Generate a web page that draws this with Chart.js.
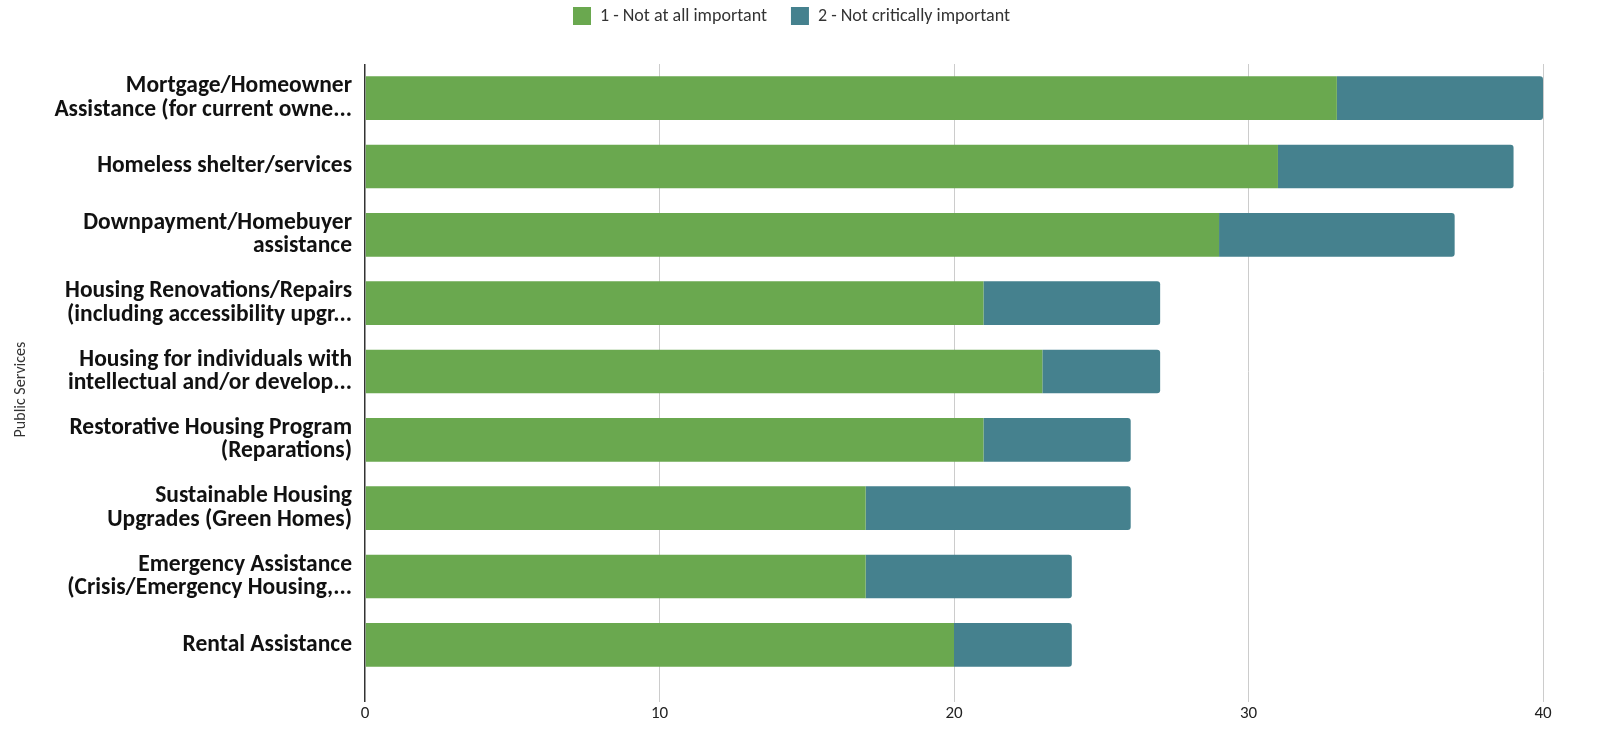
<!DOCTYPE html>
<html>
<head>
<meta charset="utf-8">
<script src="https://cdn.jsdelivr.net/npm/chart.js@4"></script>
<style>
  html, body { margin: 0; padding: 0; background: #fff; overflow: hidden; }
  canvas { display: block; }
</style>
</head>
<body>
<canvas id="myChart" width="1601" height="732" style="width:1601px;height:732px"></canvas>
<script>
// categories (already cut short like the original)
const categories = [
  ["Mortgage/Homeowner", "Assistance (for current owne..."],
  "Homeless shelter/services",
  ["Downpayment/Homebuyer", "assistance"],
  ["Housing Renovations/Repairs", "(including accessibility upgr..."],
  ["Housing for individuals with", "intellectual and/or develop..."],
  ["Restorative Housing Program", "(Reparations)"],
  ["Sustainable Housing", "Upgrades (Green Homes)"],
  ["Emergency Assistance", "(Crisis/Emergency Housing,..."],
  "Rental Assistance"
];
const notAtAll = [33, 31, 29, 21, 23, 21, 17, 17, 20];
const notCritical = [7, 8, 8, 6, 4, 5, 9, 7, 4];
const xTicks = [0, 10, 20, 30, 40];

const font = "Carlito, Lato, 'Open Sans', sans-serif";
Chart.defaults.font.family = font;
Chart.defaults.color = "#222";

const padTop = -17;

// push the plot down below the legend, and nudge the legend right a bit
const legendGap = {
  id: "legendGap",
  beforeInit(chart) {
    const lg = chart.legend;
    const fit = lg.fit;
    lg.fit = function () {
      fit.bind(lg)();
      this.height = 64 - padTop;
    };
    const draw = lg.draw;
    lg.draw = function () {
      this.left += 20; this.right += 20;
      draw.bind(lg)();
      this.left -= 20; this.right -= 20;
    };
  }
};

const ctx = document.getElementById("myChart").getContext("2d");
const myChart = new Chart(ctx, {
  type: "bar",
  data: {
    labels: categories,
    datasets: [
      {
        label: "1 - Not at all important",
        data: notAtAll,
        backgroundColor: "#6aa84f",
        borderWidth: 0,
        categoryPercentage: 0.64,
        barPercentage: 1.0
      },
      {
        label: "2 - Not critically important",
        data: notCritical,
        backgroundColor: "#45818e",
        borderWidth: 0,
        borderRadius: 3,
        borderSkipped: "start",
        categoryPercentage: 0.64,
        barPercentage: 1.0
      }
    ]
  },
  plugins: [legendGap],
  options: {
    indexAxis: "y",
    responsive: false,
    animation: false,
    devicePixelRatio: 1,
    layout: { padding: { top: padTop, right: 58, bottom: 0, left: 0 } },
    plugins: {
      legend: {
        position: "top",
        labels: {
          boxWidth: 18,
          boxHeight: 18,
          padding: 24,
          color: "#333",
          font: { size: 18 }
        }
      },
      tooltip: { enabled: false }
    },
    scales: {
      x: {
        stacked: true,
        min: 0,
        max: 40,
        afterBuildTicks: (s) => { s.ticks = xTicks.map(v => ({ value: v })); },
        afterFit: (s) => { s.height = 53; },
        border: { display: false },
        grid: {
          color: (c) => c.tick && c.tick.value === 0 ? "#333" : "#cccccc",
          lineWidth: (c) => c.tick && c.tick.value === 0 ? 1.5 : 1,
          tickLength: 23
        },
        ticks: { color: "#222", font: { size: 17 }, padding: 2 }
      },
      y: {
        stacked: true,
        afterFit: (s) => { s.width = 365; },
        border: { display: false },
        grid: { display: false },
        ticks: {
          color: "#111",
          padding: 5,
          font: { size: 23.5, weight: "bold", lineHeight: 1.0 }
        },
        title: {
          display: true,
          text: "Public Services          ",
          color: "#333",
          font: { size: 16 },
          padding: { top: 11, bottom: 0 }
        }
      }
    }
  }
});
</script>
</body>
</html>
